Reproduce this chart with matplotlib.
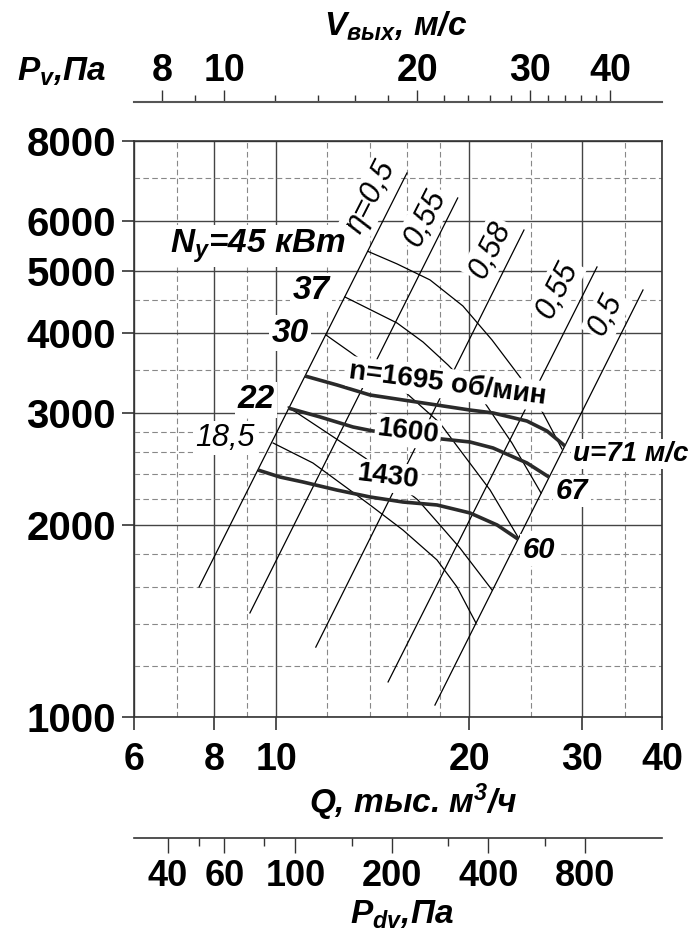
import numpy as np
import matplotlib
matplotlib.use("Agg")
import matplotlib.pyplot as plt
from matplotlib import font_manager
from matplotlib.ticker import NullFormatter

_names = {f.name for f in font_manager.fontManager.ttflist}
NARROW = "Liberation Sans Narrow" if "Liberation Sans Narrow" in _names else "Liberation Sans"

plt.rcParams["font.family"] = ["Liberation Sans", "DejaVu Sans"]
plt.rcParams["mathtext.default"] = "regular"

# axis ticks / grid
q_major = [6, 8, 10, 20, 30, 40]
q_minor = [7, 9, 12, 14, 16, 18, 25, 35]
p_major = [1000, 2000, 3000, 4000, 5000, 6000, 8000]
p_minor = [1200, 1400, 1600, 1800, 2200, 2400, 2600, 2800, 3500, 4500, 7000]
v_major = [8, 10, 20, 30, 40]
v_minor = [9, 12, 14, 16, 18, 22, 24, 26, 28, 32, 34, 36, 38]
pdv_major = [40, 60, 100, 200, 400, 800]
pdv_minor = [50, 80, 150, 300, 600]

# pressure curves, Q thousand m3/h, P Pa
q_1695 = [11.09, 12.44, 14.01, 15.77, 17.82, 20.06, 21.80, 24.62, 26.46, 28.23]
p_1695 = [3425, 3316, 3198, 3141, 3084, 3029, 2997, 2911, 2808, 2660]
q_1600 = [10.44, 11.71, 13.18, 14.16, 16.06, 18.14, 20.06, 21.80, 24.62, 26.65]
p_1600 = [3051, 2954, 2849, 2808, 2768, 2728, 2699, 2641, 2502, 2378]
q_1430 = [9.37, 10.14, 11.01, 12.44, 14.01, 15.77, 17.82, 20.06, 22.12, 23.84]
p_1430 = [2439, 2378, 2336, 2269, 2213, 2173, 2150, 2089, 2000, 1901]

# power lines
q_n45 = [13.91, 15.44, 17.38, 19.56, 21.72, 24.01, 26.08, 27.92]
p_n45 = [5370, 5133, 4845, 4410, 3900, 3413, 2997, 2632]
q_n37 = [12.80, 15.44, 16.95, 18.54, 21.17, 23.33, 25.90]
p_n37 = [4556, 4147, 3872, 3564, 3107, 2689, 2245]
q_n30 = [11.96, 13.04, 15.89, 18.01, 19.15, 21.57, 23.84]
p_n30 = [3971, 3735, 3233, 2890, 2660, 2269, 1915]
q_n22 = [10.44, 11.83, 13.76, 16.64, 18.01, 19.35, 21.72]
p_n22 = [3062, 2818, 2548, 2189, 2000, 1841, 1582]
q_n185 = [9.89, 11.41, 12.90, 14.01, 15.77, 17.82, 19.15, 20.50]
p_n185 = [2689, 2502, 2286, 2150, 1964, 1763, 1599, 1404]

# efficiency lines (end points)
eta_q_lo = [7.58, 9.10, 11.53, 14.95, 17.69]
eta_p_lo = [1599, 1456, 1287, 1135, 1044]
eta_q_hi = [16.0, 19.2, 24.36, 31.67, 37.36]
eta_p_hi = [7128, 6513, 5801, 5077, 4672]
eta_text = ["η=0,5", "0,55", "0,58", "0,55", "0,5"]
eta_text_q = [14.06, 17.07, 21.57, 27.43, 32.71]
eta_text_p = [6536, 6060, 5398, 4672, 4269]


def q2v(q):
    return np.asarray(q) / 0.83


def v2q(v):
    return np.asarray(v) * 0.83


def q2pdv(q):
    v = np.asarray(q) / 0.83
    return 0.6 * v * v


def pdv2q(p):
    return 0.83 * np.sqrt(np.clip(np.asarray(p, dtype=float), 1e-9, None) / 0.6)


fig = plt.figure(figsize=(6.97, 9.31), dpi=100)
ax = fig.add_axes([134 / 697, 214 / 931, 528 / 697, 576 / 931])
ax.set_xscale("log")
ax.set_yscale("log")
ax.set_xlim(6, 40)
ax.set_ylim(1000, 8000)

bold_narrow = dict(fontfamily=NARROW, fontweight="bold", fontsize=27)
ax.set_xticks(q_major, labels=[str(v) for v in q_major], **bold_narrow)
ax.set_xticks(q_minor, minor=True)
ax.set_yticks(p_major, labels=[str(v) for v in p_major], fontweight="bold", fontsize=29)
ax.set_yticks(p_minor, minor=True)
ax.xaxis.set_minor_formatter(NullFormatter())
ax.yaxis.set_minor_formatter(NullFormatter())
ax.tick_params(which="major", direction="out", length=9, width=1.2, color="#333")
ax.tick_params(axis="x", which="major", pad=9)
ax.tick_params(axis="y", which="major", pad=4)
ax.tick_params(which="minor", length=0)
ax.grid(True, which="major", color="#444", lw=1.0)
ax.grid(True, which="minor", color="#888", lw=0.8, ls=(0, (5, 3)))
ax.set_axisbelow(True)
for s in ax.spines.values():
    s.set_color("#333")
    s.set_linewidth(1.2)

# curves
thick = dict(color="#2a2a2a", lw=2.6, solid_capstyle="butt", zorder=3)
thin = dict(color="black", lw=0.9, zorder=2)
ax.plot(q_1695, p_1695, **thick)
ax.plot(q_1600, p_1600, **thick)
ax.plot(q_1430, p_1430, **thick)
for q, p in [(q_n45, p_n45), (q_n37, p_n37), (q_n30, p_n30), (q_n22, p_n22), (q_n185, p_n185)]:
    ax.plot(q, p, **thin)
for i in range(5):
    ax.plot([eta_q_lo[i], eta_q_hi[i]], [eta_p_lo[i], eta_p_hi[i]], **thin)

wbox = dict(boxstyle="square,pad=0.08", fc="white", ec="none")
for t, q, p in zip(eta_text, eta_text_q, eta_text_p):
    ax.text(q, p, t, rotation=63, ha="center", va="center", fontsize=22,
            fontfamily=NARROW, style="italic", bbox=wbox, zorder=5)

bi = dict(fontweight="bold", style="italic", bbox=wbox, zorder=5, va="center")
ax.text(6.83, 5476, "$N_y$=45 кВт", ha="left", fontsize=24, **bi)
ax.text(11.33, 4656, "37", ha="center", fontsize=24, **bi)
ax.text(10.51, 4000, "30", ha="center", fontsize=24, **bi)
ax.text(9.30, 3141, "22", ha="center", fontsize=24, **bi)
ax.text(8.32, 2738, "18,5", ha="center", va="center", fontsize=22, style="italic",
        bbox=wbox, zorder=5)
ax.text(29.05, 2585, "u=71 м/с", ha="left", fontsize=20, **bi)
ax.text(28.95, 2261, "67", ha="center", fontsize=21, **bi)
ax.text(25.71, 1827, "60", ha="center", fontsize=21, **bi)

bl = dict(fontweight="bold", bbox=wbox, zorder=5, ha="center", va="center", fontsize=20)
ax.text(18.54, 3328, "n=1695 об/мин", rotation=-7.5, **bl)
ax.text(16.06, 2798, "1600", rotation=-7, **bl)
ax.text(14.95, 2378, "1430", rotation=-7, **bl)

# top axis: outlet velocity
top = ax.secondary_xaxis(1 + 39 / 576, functions=(q2v, v2q))
top.set_xticks(v_major, labels=[str(v) for v in v_major], **bold_narrow)
top.set_xticks(v_minor, minor=True)
top.xaxis.set_minor_formatter(NullFormatter())
top.tick_params(which="major", direction="out", length=8.5, width=1, color="#333", pad=1)
top.tick_params(which="minor", direction="out", length=5, width=1, color="#333")
for s in top.spines.values():
    s.set_color("#555")
    s.set_linewidth(1.5)

# bottom axis: dynamic pressure
bot = ax.secondary_xaxis(-121 / 576, functions=(q2pdv, pdv2q))
bot.set_xticks(pdv_major, labels=[str(v) for v in pdv_major], fontfamily=NARROW,
               fontweight="bold", fontsize=26)
bot.set_xticks(pdv_minor, minor=True)
bot.xaxis.set_minor_formatter(NullFormatter())
bot.tick_params(which="major", direction="out", length=11, width=1, color="#333", pad=4)
bot.tick_params(which="minor", direction="out", length=6, width=1, color="#333")
for s in bot.spines.values():
    s.set_color("#333")
    s.set_linewidth(1.2)

ttl = dict(fontweight="bold", style="italic", ha="center", va="center", fontsize=24)
fig.text(396 / 697, 1 - 26 / 931, "$V_{вых}$, м/с", **ttl)
fig.text(62 / 697, 1 - 72 / 931, "$P_v$,Па", **ttl)
fig.text(413 / 697, 1 - 802 / 931, "Q, тыс. м$^3$/ч", **ttl)
fig.text(402 / 697, 1 - 915 / 931, "$P_{dv}$,Па", **ttl)

fig.savefig("out.png", dpi=100)
